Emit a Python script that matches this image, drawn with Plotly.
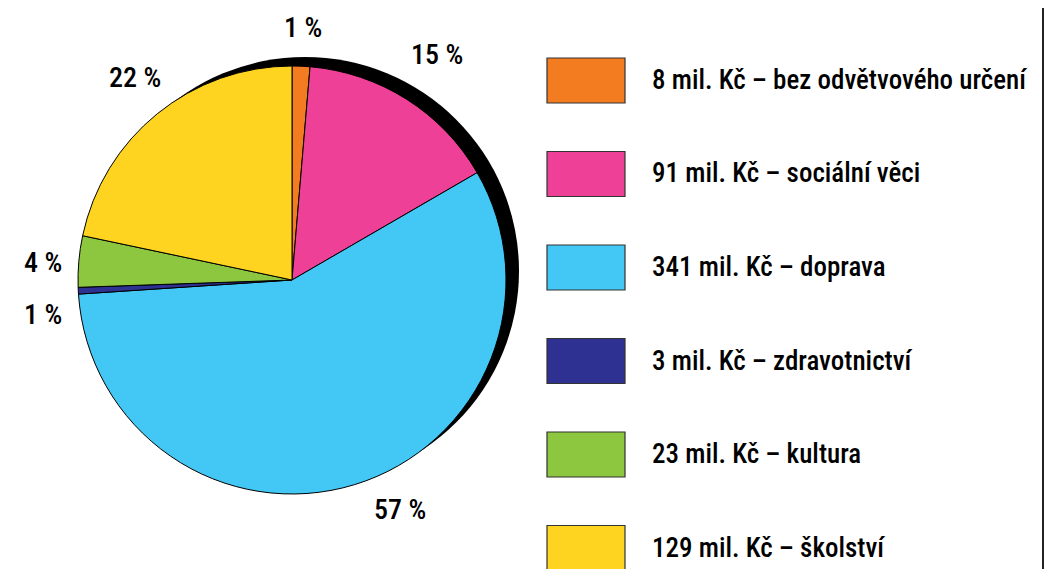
import plotly.graph_objects as go

# Data, in the order the slices run clockwise from 12 o'clock
amounts = [8, 91, 341, 3, 23, 129]  # mil. Kč
sectors = ["bez odvětvového určení", "sociální věci", "doprava",
           "zdravotnictví", "kultura", "školství"]
percent_labels = ["1 %", "15 %", "57 %", "1 %", "4 %", "22 %"]
colors = ["#F47C20", "#EE4096", "#43C8F5", "#2E3192", "#8DC63F", "#FFD420"]

OFF = 8  # the page body adds an 8px margin around the plot div
W, H = 1053 - OFF, 569 - OFF
FONT = ("Noto Sans Condensed, Roboto Condensed, Open Sans Condensed, "
        "Liberation Sans Narrow, DejaVu Sans Condensed, Roboto, sans-serif")


def px(x):
    return (x - OFF) / W


def py(y):
    return 1 - (y - OFF) / H


# pie geometry in screen pixels
cx, cy, r = 292, 280, 214
# black drop shadow behind the pie
sx, sy = 305, 271

fig = go.Figure(go.Pie(
    values=amounts,
    labels=sectors,
    sort=False,
    direction="clockwise",
    rotation=0,
    marker=dict(colors=colors, line=dict(color="black", width=1)),
    textinfo="none",
    hoverinfo="label+value",
    showlegend=False,
    domain=dict(x=[px(cx - r), px(cx + r)], y=[py(cy + r), py(cy - r)]),
))

shapes = [
    dict(type="circle", xref="paper", yref="paper", layer="below",
         x0=px(sx - r), x1=px(sx + r), y0=py(sy + r), y1=py(sy - r),
         fillcolor="black", line=dict(width=0)),
    # frame edge on the right
    dict(type="line", xref="paper", yref="paper",
         x0=px(1043), x1=px(1043), y0=0, y1=1,
         line=dict(color="#222222", width=2)),
]

annotations = []
# percentage labels around the pie
label_pos = [(303, 28), (437, 55), (400, 509), (43, 314), (43, 262), (135, 78)]
for text, (lx, ly) in zip(percent_labels, label_pos):
    annotations.append(dict(
        x=px(lx), y=py(ly), xref="paper", yref="paper", text=text,
        showarrow=False, xanchor="center", yanchor="middle",
        font=dict(family=FONT, size=28, color="black", weight=500),
    ))

# hand-built legend on the right
row_top, row_step = 58, 93.5
for i, (amt, name, col) in enumerate(zip(amounts, sectors, colors)):
    top = row_top + i * row_step
    shapes.append(dict(
        type="rect", xref="paper", yref="paper",
        x0=px(547), x1=px(625), y0=py(top + 45), y1=py(top),
        fillcolor=col, line=dict(color="#333333", width=1.2),
    ))
    annotations.append(dict(
        x=px(650), y=py(top + 22), xref="paper", yref="paper",
        text=f"{amt} mil. Kč – {name}", showarrow=False,
        xanchor="left", yanchor="middle",
        font=dict(family=FONT, size=27, color="black", weight=500),
    ))

fig.update_layout(
    width=W, height=H,
    margin=dict(l=0, r=0, t=0, b=0),
    paper_bgcolor="white", plot_bgcolor="white",
    shapes=shapes, annotations=annotations,
)

fig.write_html("out.html")
